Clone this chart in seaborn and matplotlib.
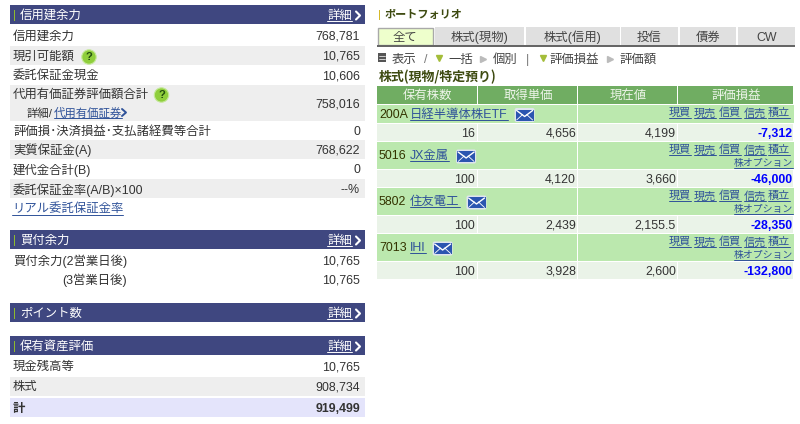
import matplotlib
matplotlib.use('Agg')
import matplotlib.pyplot as plt
from matplotlib.patches import Rectangle, Circle, FancyBboxPatch
import seaborn as sns

# left panel
margin_labels = ['信用建余力', '現引可能額', '委託保証金現金', '代用有価証券評価額合計',
                 '評価損･決済損益･支払諸経費等合計', '実質保証金(A)', '建代金合計(B)', '委託保証金率(A/B)×100']
margin_values = ['768,781', '10,765', '10,606', '758,016', '0', '768,622', '0', '--%']
buying_labels = ['買付余力(2営業日後)', '(3営業日後)']
buying_values = ['10,765', '10,765']
asset_labels = ['現金残高等', '株式', '計']
asset_values = ['10,765', '908,734', '919,499']
section_titles = ['信用建余力', '買付余力', 'ポイント数', '保有資産評価']

# right panel
tabs = ['全て', '株式(現物)', '株式(信用)', '投信', '債券', 'CW']
columns = ['保有株数', '取得単価', '現在値', '評価損益']
codes = ['200A', '5016', '5802', '7013']
names = ['日経半導体株ETF', 'JX金属', '住友電工', 'IHI']
shares = ['16', '100', '100', '100']
costs = ['4,656', '4,120', '2,439', '3,928']
prices = ['4,199', '3,660', '2,155.5', '2,600']
pnl = ['-7,312', '-46,000', '-28,350', '-132,800']
actions = ['現買', '現売', '信買', '信売', '積立']

NAVY = '#3f4780'
LINK = '#2f5299'
TEXT = '#333333'
GREY = '#eeeeee'
OLIVE = '#3d4a10'

sns.set_theme(style='white')
plt.rcParams['font.family'] = ['Liberation Sans', 'Noto Sans CJK JP']
plt.rcParams['font.size'] = 8.9

fig = plt.figure(figsize=(8, 4.24), dpi=100)
ax = fig.add_axes([0, 0, 1, 1])
ax.set_xlim(0, 800)
ax.set_ylim(424, 0)
ax.axis('off')


def box(x0, y0, x1, y1, color, **kw):
    ax.add_patch(Rectangle((x0, y0), x1 - x0, y1 - y0, fc=color, ec=kw.pop('ec', 'none'), **kw))


def label(x, y, s, ha='left', color=TEXT, **kw):
    # va=center sits a little high with the CJK metrics
    return ax.text(x, y + 1.2, s, ha=ha, va='center', color=color, **kw)


def link(x, y, s, ha='left', color=LINK, size=None, under=6.5):
    t = label(x, y, s, ha=ha, color=color, fontsize=size or 8.9)
    bb = t.get_window_extent(fig.canvas.get_renderer()).transformed(ax.transData.inverted())
    ax.plot([bb.x0, bb.x1], [y + under, y + under], color=color, lw=0.7)
    return bb


def help_icon(x, y):
    ax.add_patch(Circle((x, y), 7.2, fc='#8fce3c', ec='#c5e89a', lw=0.8))
    ax.text(x, y + 0.5, '?', ha='center', va='center', fontsize=8, fontweight='bold', color='#245010')


def mail_icon(x, y):
    ax.add_patch(FancyBboxPatch((x - 10, y - 7), 20, 14, boxstyle='round,pad=0,rounding_size=2',
                                fc='#dfe4ee', ec='none'))
    box(x - 9, y - 5.5, x + 9, y + 5.5, '#2b55b0')
    ax.plot([x - 8, x, x + 8], [y - 4.5, y + 1.5, y - 4.5], color='white', lw=1)
    ax.plot([x - 8, x - 2], [y + 5, y - 0.5], color='white', lw=0.6)
    ax.plot([x + 8, x + 2], [y + 5, y - 0.5], color='white', lw=0.6)


def section(y0, title):
    box(10, y0, 365, y0 + 19, NAVY)
    box(13.5, y0 + 5, 15, y0 + 16, '#8db92e')
    label(20, y0 + 9.5, title, color='white', fontsize=8.9)
    link(327, y0 + 9.5, '詳細', color='white')
    ax.plot([356, 360, 356], [y0 + 6.5, y0 + 10.5, y0 + 14.5], color='white', lw=1.5)


# left panel sections
section(5, section_titles[0])
section(230, section_titles[1])
section(303, section_titles[2])
section(336, section_titles[3])

margin_tops = [24, 46, 65, 85, 121, 140, 159, 179, 198]
for i, (name, val) in enumerate(zip(margin_labels, margin_values)):
    top, bottom = margin_tops[i], margin_tops[i + 1]
    if i % 2 == 1:
        box(10, top, 365, bottom, GREY)
    mid = (top + bottom) / 2
    if i == 3:
        label(13, 94, name)
        label(27, 112, '詳細/', fontsize=8.2)
        link(54, 112, '代用有価証券', size=8.2, under=6)
        ax.plot([122, 126, 122], [109, 112.5, 116], color=LINK, lw=1.4)
        help_icon(161.5, 95)
    else:
        label(13, mid, name)
    label(360, mid, val, ha='right')
help_icon(89, 57)
link(12, 208, 'リアル委託保証金率')

label(13, 260, buying_labels[0])
label(62, 279, buying_labels[1])
for y, val in zip([260, 279], buying_values):
    label(360, y, val, ha='right')

box(10, 377, 365, 396, GREY)
box(10, 398, 365, 417, '#e4e4fb')
for i, (y, name, val) in enumerate(zip([366, 386, 407.5], asset_labels, asset_values)):
    weight = 'bold' if i == 2 else 'normal'
    label(13, y, name, fontweight=weight)
    label(360, y, val, ha='right', fontweight=weight)

# portfolio title
box(379, 10, 380.2, 20, '#d6b92a')
label(385, 14, 'ポートフォリオ', color=OLIVE, fontweight='bold', fontsize=8.0)

# tabs
tab_edges = [(377, 433), (435, 524), (526, 620), (621, 678), (680, 736), (738, 795)]
for i, (name, (x0, x1)) in enumerate(zip(tabs, tab_edges)):
    if i == 0:
        box(377.5, 27.5, x1, 45, '#eeffcc', ec='#a9a9a9', lw=1)
    else:
        box(x0, 27, x1, 45, '#e0e0e0')
    label((x0 + x1) / 2, 36.5, name, ha='center', color='#444444')
box(377, 45, 795, 47, '#666666')

# toolbar
box(378, 53, 386, 62, '#555555')
for yy in [56, 58.5]:
    ax.plot([379, 385], [yy, yy], color='white', lw=0.5)
label(392, 58.5, '表示', color='#444444')
label(424, 58.5, '/', color='#777777')
ax.plot(439, 58, marker='v', ms=5, color='#a4bd3a')
label(448, 58.5, '一括', color='#444444')
ax.plot(483, 59, marker='>', ms=5, color='#bbbbbb')
label(493, 58.5, '個別', color='#444444')
label(526, 58.5, '|', color='#777777')
ax.plot(543, 58, marker='v', ms=5, color='#a4bd3a')
label(550, 58.5, '評価損益', color='#444444')
ax.plot(610, 59, marker='>', ms=5, color='#bbbbbb')
label(620, 58.5, '評価額', color='#444444')
label(379, 75.5, '株式(現物/特定預り)', color=OLIVE, fontweight='bold', fontsize=9.3,
      family='Noto Sans CJK JP')

# holdings table
col_edges = [377, 478, 578, 678, 794]
for j, name in enumerate(columns):
    box(col_edges[j], 86, col_edges[j + 1] - 1, 103.5, '#70ad62')
    label((col_edges[j] + col_edges[j + 1]) / 2, 94.5, name, ha='center', color='#eef5ea')

name_rows = [(105, 123), (142, 169), (188, 215), (234, 261)]
value_rows = [(124, 141), (170, 187), (216, 233), (262, 279)]
for i, code in enumerate(codes):
    top, bottom = name_rows[i]
    box(377, top, 577, bottom, '#bbe8ae')
    box(578, top, 794, bottom, '#bbe8ae')
    first = (top + bottom) / 2 - 0.5
    label(379, first, code, color='#333300')
    bb = link(410, first, names[i], under=6)
    mail_icon(bb.x1 + 17, first + 1.5)
    for s, x in zip(actions, [669, 694, 719, 744, 768]):
        link(x, top + 7, s, size=8.0, under=5.5)
    if i > 0:
        link(734, top + 20, '株オプション', size=7.1, under=5.5)

    top, bottom = value_rows[i]
    for j in range(4):
        box(col_edges[j], top, col_edges[j + 1] - 1, bottom, '#eaf3e8')
    mid = (top + bottom) / 2
    label(475, mid, shares[i], ha='right')
    label(576, mid, costs[i], ha='right')
    label(676, mid, prices[i], ha='right')
    label(793, mid, pnl[i], ha='right', color='#0000ff', fontweight='bold')

sns.despine(ax=ax, left=True, bottom=True)
fig.savefig('out.png', dpi=100, facecolor='white')
